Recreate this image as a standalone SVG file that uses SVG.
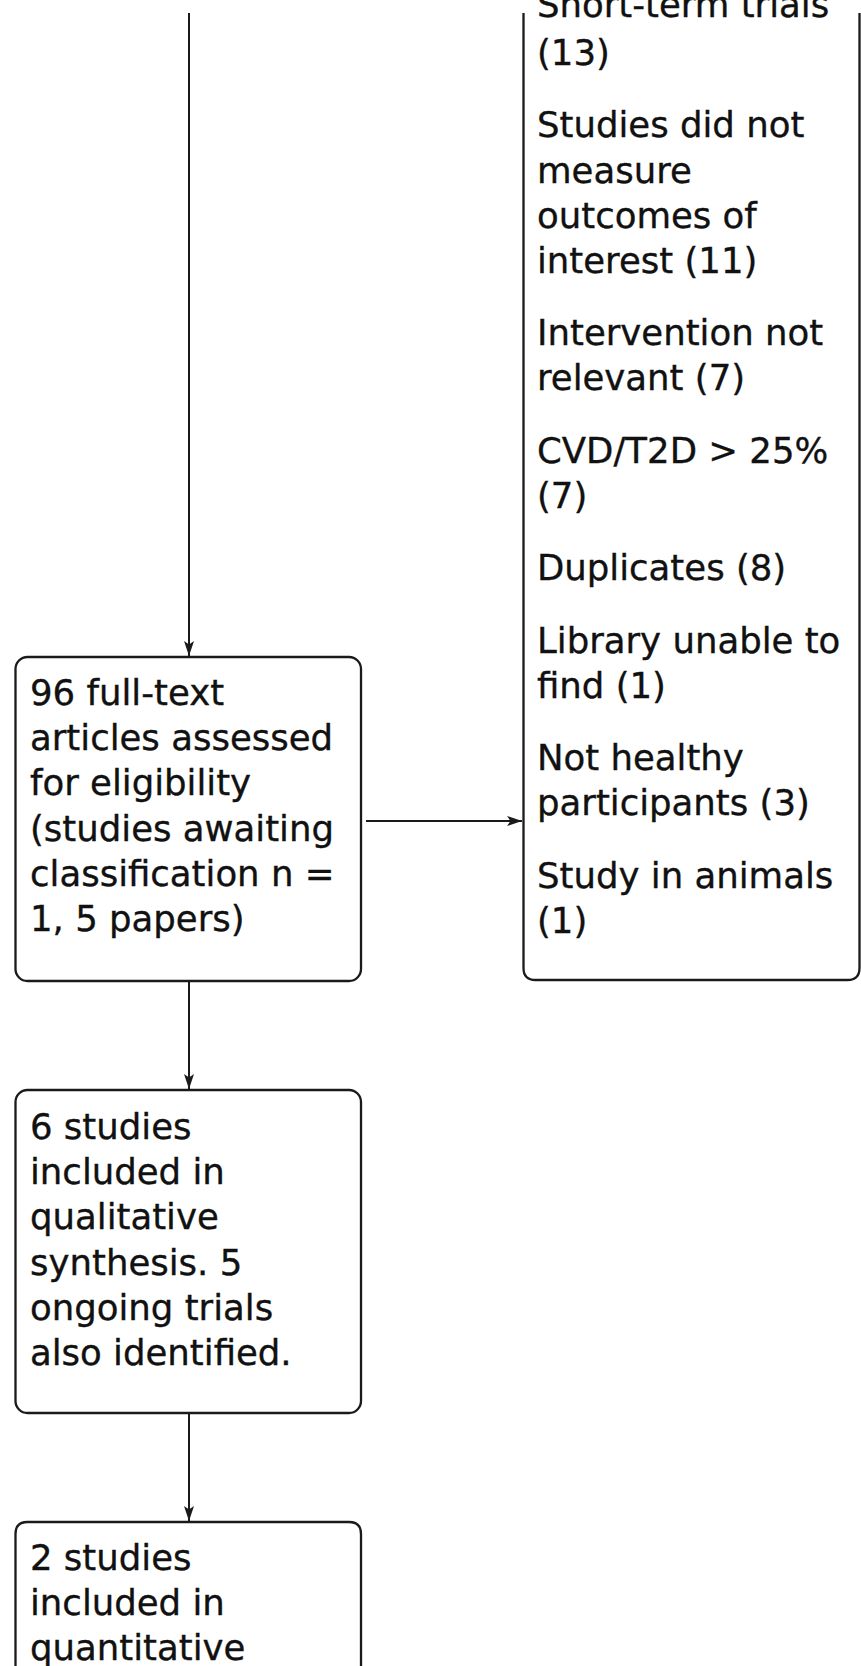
<svg xmlns="http://www.w3.org/2000/svg" width="861" height="1666" viewBox="0 0 861 1666">
<defs>
<style>
.box{fill:#fff;stroke:#1a1a1a;stroke-width:2.3}
.edge{fill:none;stroke:#1a1a1a;stroke-width:2}
.t{font-family:"DejaVu Sans","Verdana",sans-serif;font-size:35.5px;fill:#111;stroke:#111;stroke-width:0.35}
</style>
<marker id="arr" markerUnits="userSpaceOnUse" markerWidth="16" markerHeight="12" refX="15" refY="6" orient="auto">
<path d="M0,1 L15,6 L0,11 L3.5,6 Z" fill="#1a1a1a"/>
</marker>
</defs>
<rect width="861" height="1666" fill="#fff"/>
<g id="connectors">
<line class="edge" x1="189" y1="13" x2="189" y2="656" marker-end="url(#arr)"/>
<line class="edge" x1="366" y1="821" x2="522" y2="821" marker-end="url(#arr)"/>
<line class="edge" x1="189" y1="981" x2="189" y2="1089" marker-end="url(#arr)"/>
<line class="edge" x1="189" y1="1413" x2="189" y2="1521" marker-end="url(#arr)"/>
</g>
<g id="excluded">
<path class="box" d="M523.5,13 V968 Q523.5,980 535.5,980 H847.5 Q859.5,980 859.5,968 V13"/>
<text class="t" x="537">
<tspan x="537" y="17">Short-term trials</tspan>
<tspan x="537" y="65">(13)</tspan>
<tspan x="537" y="137.3">Studies did not</tspan>
<tspan x="537" y="182.5">measure</tspan>
<tspan x="537" y="227.7">outcomes of</tspan>
<tspan x="537" y="272.9">interest (11)</tspan>
<tspan x="537" y="345.2">Intervention not</tspan>
<tspan x="537" y="390.4">relevant (7)</tspan>
<tspan x="537" y="462.7">CVD/T2D &gt; 25%</tspan>
<tspan x="537" y="507.9">(7)</tspan>
<tspan x="537" y="580.2">Duplicates (8)</tspan>
<tspan x="537" y="652.5">Library unable to</tspan>
<tspan x="537" y="697.7">find (1)</tspan>
<tspan x="537" y="770">Not healthy</tspan>
<tspan x="537" y="815.2">participants (3)</tspan>
<tspan x="537" y="887.5">Study in animals</tspan>
<tspan x="537" y="932.7">(1)</tspan>
</text>
</g>
<g id="fulltext">
<rect class="box" x="15.5" y="657" width="345.5" height="324" rx="12" ry="12"/>
<text class="t">
<tspan x="30" y="705">96 full-text</tspan>
<tspan x="30" y="750.2">articles assessed</tspan>
<tspan x="30" y="795.4">for eligibility</tspan>
<tspan x="30" y="840.6">(studies awaiting</tspan>
<tspan x="30" y="885.8">classification n =</tspan>
<tspan x="30" y="931">1, 5 papers)</tspan>
</text>
</g>
<g id="qualitative">
<rect class="box" x="15.5" y="1090" width="345.5" height="323" rx="12" ry="12"/>
<text class="t">
<tspan x="30" y="1139">6 studies</tspan>
<tspan x="30" y="1184.2">included in</tspan>
<tspan x="30" y="1229.4">qualitative</tspan>
<tspan x="30" y="1274.6">synthesis. 5</tspan>
<tspan x="30" y="1319.8">ongoing trials</tspan>
<tspan x="30" y="1365">also identified.</tspan>
</text>
</g>
<g id="quantitative">
<path class="box" d="M15.5,1680 V1534 Q15.5,1522 27.5,1522 H349 Q361,1522 361,1534 V1680"/>
<text class="t">
<tspan x="30" y="1570">2 studies</tspan>
<tspan x="30" y="1615.2">included in</tspan>
<tspan x="30" y="1660.4">quantitative</tspan>
</text>
</g>
</svg>
